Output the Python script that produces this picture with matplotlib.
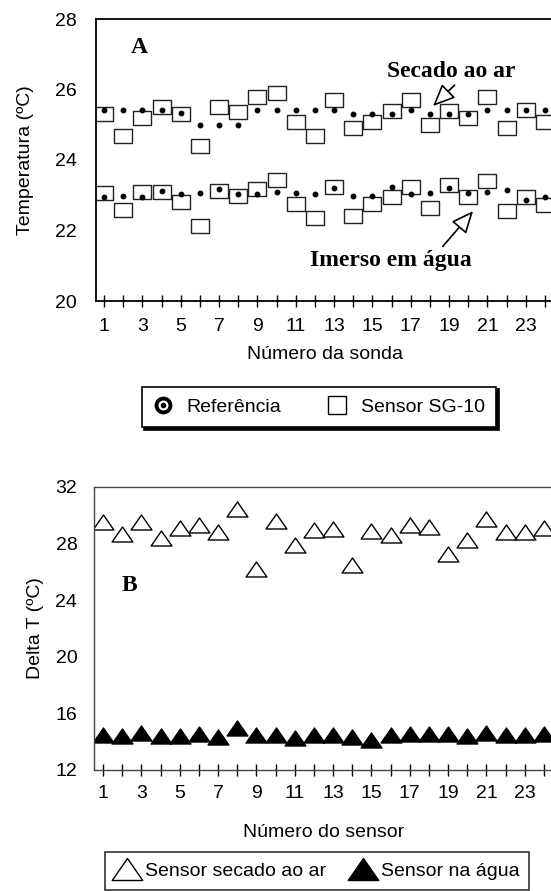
import matplotlib
matplotlib.use("Agg")
import matplotlib.pyplot as plt
from matplotlib.lines import Line2D
from matplotlib.path import Path
from matplotlib.legend_handler import HandlerTuple

plt.rcParams['font.family'] = ['Liberation Sans', 'DejaVu Sans']

sondas = list(range(1, 25))

# painel A - temperatura (ºC)
ref_ar = [25.42, 25.42, 25.42, 25.42, 25.32, 24.99, 24.99, 24.99, 25.42, 25.42, 25.42, 25.42,
          25.42, 25.30, 25.30, 25.30, 25.42, 25.30, 25.30, 25.30, 25.42, 25.42, 25.42, 25.42]
sg10_ar = [25.30, 24.68, 25.20, 25.49, 25.30, 24.41, 25.49, 25.37, 25.78, 25.89, 25.08, 24.68,
           25.70, 24.90, 25.09, 25.39, 25.70, 24.99, 25.39, 25.20, 25.78, 24.90, 25.42, 25.09]
ref_agua = [22.96, 22.98, 22.96, 23.12, 23.03, 23.07, 23.17, 23.03, 23.03, 23.09, 23.06, 23.03,
            23.20, 22.98, 22.98, 23.22, 23.03, 23.06, 23.20, 23.06, 23.10, 23.16, 22.87, 22.94]
sg10_agua = [23.07, 22.57, 23.10, 23.10, 22.80, 22.12, 23.13, 22.98, 23.17, 23.44, 22.74, 22.35,
             23.24, 22.40, 22.74, 22.94, 23.22, 22.65, 23.28, 22.94, 23.40, 22.54, 22.94, 22.71]

# painel B - delta T (ºC)
dt_ar = [29.53, 28.70, 29.53, 28.40, 29.12, 29.34, 28.82, 30.42, 26.20, 29.60, 27.90, 28.94,
         29.01, 26.51, 28.89, 28.58, 29.29, 29.17, 27.29, 28.28, 29.71, 28.82, 28.82, 29.12]
dt_agua = [14.47, 14.43, 14.61, 14.43, 14.38, 14.52, 14.36, 14.97, 14.50, 14.50, 14.28, 14.50,
           14.50, 14.36, 14.14, 14.45, 14.54, 14.52, 14.54, 14.43, 14.61, 14.47, 14.47, 14.52]

W, H = 551, 891
fig = plt.figure(figsize=(W / 100, H / 100), dpi=100)

rect = Path([(-1, -0.75), (1, -0.75), (1, 0.75), (-1, 0.75), (-1, -0.75)],
            [Path.MOVETO, Path.LINETO, Path.LINETO, Path.LINETO, Path.CLOSEPOLY])
tri = Path([(0, 0.72), (-1, -0.72), (1, -0.72), (0, 0.72)],
           [Path.MOVETO, Path.LINETO, Path.LINETO, Path.CLOSEPOLY])

px = 19.17  # pixels per probe
# ---------- A ----------
axA = fig.add_axes([96 / W, 1 - 301 / H, (24.5 - 0.58) * px / W, 282 / H])
axA.plot(sondas, sg10_ar, ls='none', marker=rect, ms=13, mfc='none', mec='#222', mew=1)
axA.plot(sondas, sg10_agua, ls='none', marker=rect, ms=13, mfc='none', mec='#222', mew=1)
axA.plot(sondas, ref_ar, ls='none', marker='o', ms=3.2, color='black', zorder=3)
axA.plot(sondas, ref_agua, ls='none', marker='o', ms=3.2, color='black', zorder=3)
axA.set_xlim(0.58, 24.5)
axA.set_ylim(20, 28)
axA.set_yticks([20, 22, 24, 26, 28])
axA.set_xticks(sondas)
axA.set_xticklabels([str(s) if s % 2 else '' for s in sondas])
axA.tick_params(axis='x', direction='inout', length=9, width=1, pad=8, labelsize=14)
axA.tick_params(axis='y', length=0, pad=14, labelsize=14)
for s in axA.spines.values():
    s.set_linewidth(1.3)
axA.set_ylabel('Temperatura (ºC)', fontsize=14, labelpad=15)
axA.set_xlabel('Número da sonda', fontsize=14, labelpad=8)

serif = dict(family=['Liberation Serif', 'DejaVu Serif'], fontweight='bold', fontsize=17)
axA.text(2.83, 27.18, 'A', ha='center', va='center', **serif)
axA.annotate('Secado ao ar', xy=(18.16, 25.53), xytext=(19.1, 26.5), ha='center', va='center',
             arrowprops=dict(arrowstyle='-|>,head_length=0.8,head_width=0.35', fc='white',
                             ec='black', lw=1.2, shrinkA=0, shrinkB=0,
                             relpos=(0.55, 0.0)), **serif)
axA.annotate('Imerso em água', xy=(20.25, 22.55), xytext=(15.97, 21.16), ha='center', va='center',
             arrowprops=dict(arrowstyle='-|>,head_length=0.8,head_width=0.35', fc='white',
                             ec='black', lw=1.2, shrinkA=0, shrinkB=0,
                             relpos=(0.82, 1.15)), **serif)

h_ref = (Line2D([], [], ls='none', marker='o', ms=10, mfc='white', mec='black', mew=2.8),
         Line2D([], [], ls='none', marker='o', ms=3, color='black'))
h_sq = Line2D([], [], ls='none', marker='s', ms=13, mfc='none', mec='black', mew=1)
legA = axA.legend([h_ref, h_sq], ['Referência', 'Sensor SG-10'],
                  handler_map={tuple: HandlerTuple(ndivide=1)},
                  loc='center', bbox_to_anchor=(319 / W, 1 - 407 / H), bbox_transform=fig.transFigure,
                  ncol=2, fontsize=14, frameon=True, fancybox=False, edgecolor='black',
                  handlelength=1.0, handletextpad=0.7, columnspacing=2.4, borderpad=0.6,
                  shadow={'ox': 2, 'oy': -2, 'color': 'black', 'alpha': 1})
legA.get_frame().set_linewidth(1.2)

# ---------- B ----------
axB = fig.add_axes([94 / W, 1 - 770 / H, (24.5 - 0.53) * px / W, 283 / H])
axB.plot(sondas, dt_ar, ls='none', marker=tri, ms=15, mfc='white', mec='black', mew=1)
axB.plot(sondas, dt_agua, ls='none', marker=tri, ms=15, mfc='black', mec='black', mew=1)
axB.set_xlim(0.53, 24.5)
axB.set_ylim(12, 32)
axB.set_yticks([12, 16, 20, 24, 28, 32])
axB.set_xticks(sondas)
axB.set_xticklabels([str(s) if s % 2 else '' for s in sondas])
axB.tick_params(axis='x', direction='inout', length=9, width=1, pad=6, labelsize=14)
axB.tick_params(axis='y', length=0, pad=12, labelsize=14)
for s in axB.spines.values():
    s.set_linewidth(1.0)
    s.set_color('#444')
axB.set_ylabel('Delta T (ºC)', fontsize=14, labelpad=8)
axB.set_xlabel('Número do sensor', fontsize=14, labelpad=16)
axB.text(2.36, 25.07, 'B', ha='center', va='center', **serif)

h_open = Line2D([], [], ls='none', marker=tri, ms=22, mfc='white', mec='black', mew=1)
h_fill = Line2D([], [], ls='none', marker=tri, ms=22, mfc='black', mec='black', mew=1)
legB = axB.legend([h_open, h_fill], ['Sensor secado ao ar', 'Sensor na água'],
                  loc='center', bbox_to_anchor=(317 / W, 1 - 871 / H), bbox_transform=fig.transFigure,
                  ncol=2, fontsize=14, frameon=True, fancybox=False, edgecolor='black',
                  handlelength=1.3, handletextpad=0.3, columnspacing=1.2, borderpad=0.5)
legB.get_frame().set_linewidth(1.2)

fig.savefig('out.png', dpi=100)
